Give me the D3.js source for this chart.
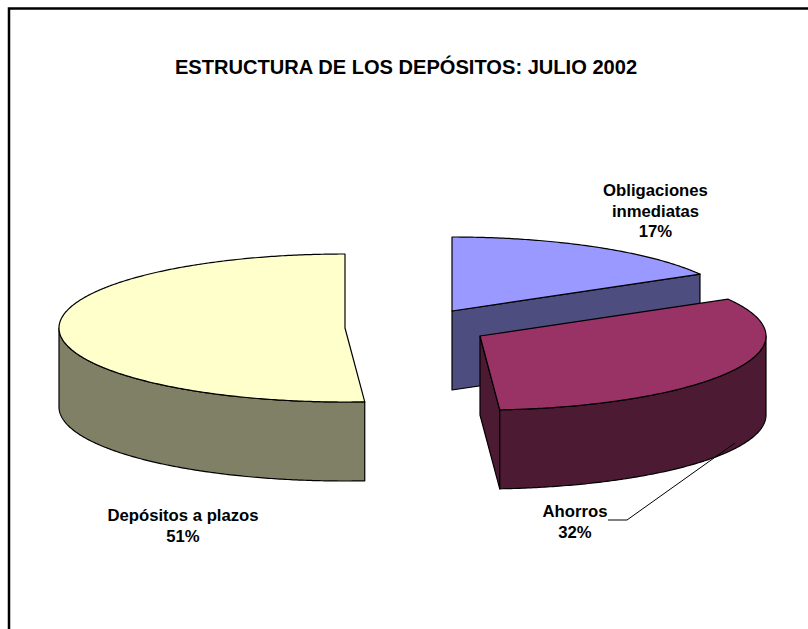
<!DOCTYPE html>
<html><head><meta charset="utf-8">
<style>html,body{margin:0;padding:0;background:#fff;overflow:hidden}svg{display:block}text{font-family:"Liberation Sans",Arial,sans-serif;font-weight:bold;fill:#000}</style>
<script src="https://cdn.jsdelivr.net/npm/d3@7/dist/d3.min.js"></script>
</head><body><svg id="c" width="808" height="629"></svg>
<script>
const title = "ESTRUCTURA DE LOS DEPÓSITOS: JULIO 2002";
const categories = ["Obligaciones inmediatas", "Ahorros", "Depósitos a plazos"];
const values = [16.7, 32.2, 51.1];
const percentLabels = ["17%", "32%", "51%"];
const topColors = ["#9999FF", "#993366", "#FFFFCC"];
const sideColors = ["#4D4D80", "#4D1A33", "#808066"];

// layout
const rx = 286, ry = 74, depth = 79;
const centers = [[452, 311], [480, 336], [345, 328]];
const labelLines = [["Obligaciones", "inmediatas", "17%"], ["Ahorros", "32%"], ["Depósitos a plazos", "51%"]];
const labelPos = [[655.5, 196], [575, 517], [183, 521]];
const leader = [[608, 520], [627, 520], [735, 443]];

const svg = d3.select("#c");
svg.append("path").attr("d", d3.line()([[9, 640], [9, 8.5], [820, 8.5]]))
  .attr("fill", "none").attr("stroke", "#000").attr("stroke-width", 2.5);

svg.append("text").attr("x", 406).attr("y", 74).attr("text-anchor", "middle")
  .attr("font-size", 20.1).text(title);

const pie = d3.pie().sort(null).value(d => d);
const arcs = pie(values);
const sx = d3.scaleLinear().domain([-1, 1]).range([-rx, rx]);
const sy = d3.scaleLinear().domain([-1, 1]).range([ry, -ry]);
const pt = (c, a, dz = 0) => [c[0] + sx(Math.sin(a)), c[1] + sy(Math.cos(a)) + dz];
const line = d3.line();
const sweep = (a0, a1) => { const n = Math.max(2, Math.ceil(Math.abs(a1 - a0) / 0.01));
  return d3.range(n + 1).map(i => a0 + (a1 - a0) * i / n); };
const strokeAttrs = s => s.attr("stroke", "#000").attr("stroke-width", 1.2).attr("stroke-linejoin", "round");

arcs.forEach((d, i) => {
  const c = centers[i], a0 = d.startAngle, a1 = d.endAngle;
  const g = svg.append("g");
  const rim = (lo, hi) => {
    if (hi <= lo) return;
    const top = sweep(lo, hi).map(a => pt(c, a));
    const bot = sweep(hi, lo).map(a => pt(c, a, depth));
    strokeAttrs(g.append("path").attr("d", line(top.concat(bot)) + "Z").attr("fill", sideColors[i]));
  };
  const wall = a => {
    const p = pt(c, a);
    strokeAttrs(g.append("path").attr("d", line([c, p, [p[0], p[1] + depth], [c[0], c[1] + depth]]) + "Z").attr("fill", sideColors[i]));
  };
  // cut faces turned toward the viewer
  if (i === 0) wall(a1);
  if (i === 1) wall(a1);
  // outer rim, front half only
  rim(Math.max(a0, Math.PI / 2), Math.min(a1, Math.PI * 1.5));
  // top face
  const topPts = [c].concat(sweep(a0, a1).map(a => pt(c, a)));
  strokeAttrs(g.append("path").attr("d", line(topPts) + "Z").attr("fill", topColors[i]));
});

svg.append("path").attr("d", line(leader)).attr("fill", "none").attr("stroke", "#000").attr("stroke-width", 1);

labelLines.forEach((lines, i) => {
  const t = svg.append("text").attr("text-anchor", "middle").attr("font-size", 16.7);
  lines.forEach((s, j) => t.append("tspan").attr("x", labelPos[i][0]).attr("y", labelPos[i][1] + j * 20.5).text(s));
});
</script></body></html>
